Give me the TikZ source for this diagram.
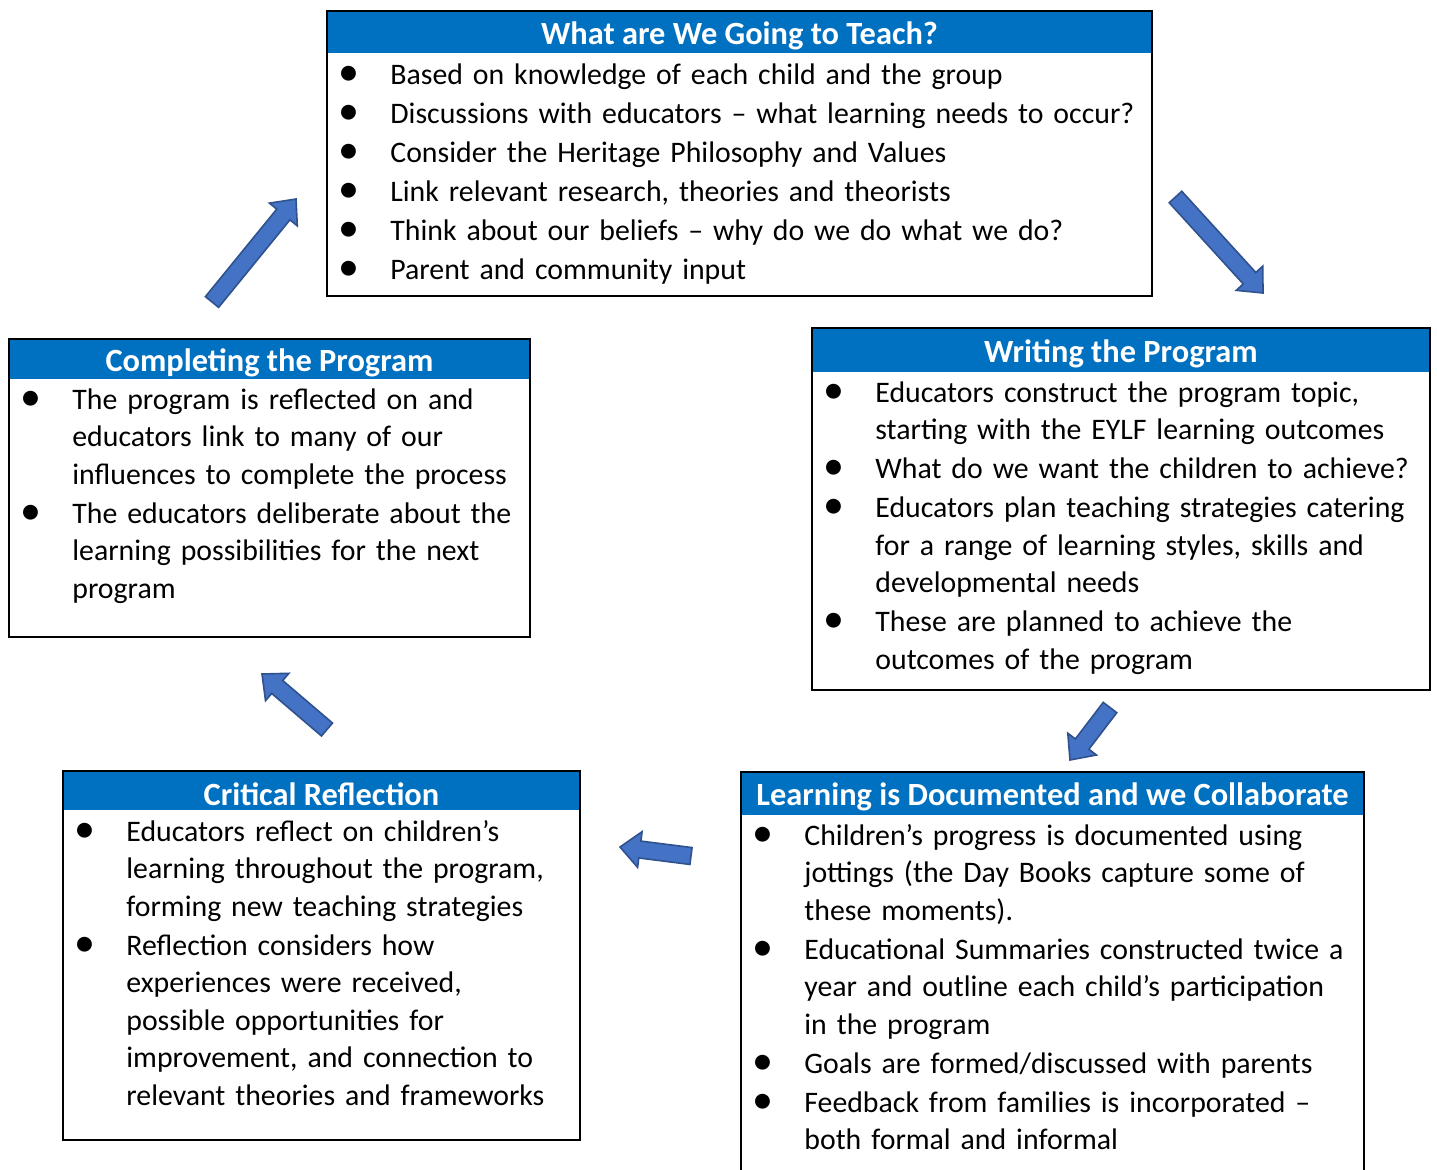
\documentclass[tikz,border=0pt]{standalone}
\usepackage{fontspec}
\setmainfont{Carlito}
\usetikzlibrary{calc,fit}

\definecolor{headblue}{HTML}{0070C0}
\definecolor{arrowfill}{HTML}{4472C4}
\definecolor{arrowline}{HTML}{2F528F}

% list entries with hanging indent
\newcommand{\bulletmark}{\raisebox{-0.6pt}{\fontsize{21}{0}\selectfont\textbullet}}
\newcommand{\point}[1]{\noindent\hangindent=31.5pt\hangafter=1%
  \makebox[31.5pt][l]{\hspace{8.5pt}\makebox[5pt]{\bulletmark}}#1\par}

% fat block arrow from tail #1 to tip #2
\newcommand{\blockarrow}[2]{%
  \coordinate (#1-neck) at ($(#2)!10pt!(#1)$);
  \draw[blockarrow]
    ($(#1)!4.25pt!90:(#2)$) -- ($(#1-neck)!4.25pt!90:(#2)$) --
    ($(#1-neck)!9pt!90:(#2)$) -- (#2) --
    ($(#1-neck)!9pt!-90:(#2)$) -- ($(#1-neck)!4.25pt!-90:(#2)$) --
    ($(#1)!4.25pt!-90:(#2)$) -- cycle;}

\tikzset{
  box/.style={draw=black, line width=1pt, inner sep=0pt},
  head/.style={fill=headblue, inner sep=0pt},
  title/.style={inner sep=0pt, text=white, yshift=-1.7pt,
    font=\fontsize{16.2}{19}\selectfont\bfseries},
  body/.style={anchor=base west, inner sep=0pt, align=left,
    font=\fontsize{14.9}{18.75}\selectfont,
    execute at begin node={\setlength{\parskip}{0.75pt}}},
  blockarrow/.style={fill=arrowfill, draw=arrowline, line width=0.8pt, line join=miter}
}

\begin{document}
\begin{tikzpicture}[x=0.5pt, y=-0.5pt]
  \useasboundingbox (0,0) rectangle (1437,1169);
  \clip (0,0) rectangle (1437,1169);

  % what to teach
  \node[head, fit={(327,11) (1152,53)}] (teachhead) {};
  \node[title] (teachtitle) at (teachhead.center) {What are We Going to Teach?};
  \node[box, fit={(327,11) (1152,296)}] (teach) {};
  \node[body, text width=410pt] (teachtext) at (327,84) {%
    \point{Based on knowledge of each child and the group}%
    \point{Discussions with educators – what learning needs to occur?}%
    \point{Consider the Heritage Philosophy and Values}%
    \point{Link relevant research, theories and theorists}%
    \point{Think about our beliefs – why do we do what we do?}%
    \point{Parent and community input}};

  % writing
  \node[head, fit={(812,328) (1430,372)}] (writehead) {};
  \node[title] (writetitle) at (writehead.center) {Writing the Program};
  \node[box, fit={(812,328) (1430,690)}] (write) {};
  \node[body, text width=308pt] (writetext) at (812,402) {%
    \point{Educators construct the program topic,\newline starting with the EYLF learning outcomes}%
    \point{What do we want the children to achieve?}%
    \point{Educators plan teaching strategies catering\newline for a range of learning styles, skills and\newline developmental needs}%
    \point{These are planned to achieve the\newline outcomes of the program}};

  % documenting
  \node[head, fit={(741,772) (1364,815)}] (dochead) {};
  \node[title] (doctitle) at (dochead.center) {Learning is Documented and we Collaborate};
  \node[box, fit={(741,772) (1364,1185)}] (doc) {};
  \node[body, text width=310pt] (doctext) at (741,845) {%
    \point{Children’s progress is documented using\newline jottings (the Day Books capture some of\newline these moments).}%
    \point{Educational Summaries constructed twice a\newline year and outline each child’s participation\newline in the program}%
    \point{Goals are formed/discussed with parents}%
    \point{Feedback from families is incorporated –\newline both formal and informal}};

  % reflection
  \node[head, fit={(63,771) (580,810)}] (reflecthead) {};
  \node[title] (reflecttitle) at (reflecthead.center) {Critical Reflection};
  \node[box, fit={(63,771) (580,1140)}] (reflect) {};
  \node[body, text width=258pt] (reflecttext) at (63,841) {%
    \point{Educators reflect on children’s\newline learning throughout the program,\newline forming new teaching strategies}%
    \point{Reflection considers how\newline experiences were received,\newline possible opportunities for\newline improvement, and connection to\newline relevant theories and frameworks}};

  % completing
  \node[head, fit={(9,339) (530,379)}] (completehead) {};
  \node[title] (completetitle) at (completehead.center) {Completing the Program};
  \node[box, fit={(9,339) (530,637)}] (complete) {};
  \node[body, text width=260pt] (completetext) at (9,409) {%
    \point{The program is reflected on and\newline educators link to many of our\newline influences to complete the process}%
    \point{The educators deliberate about the\newline learning possibilities for the next\newline program}};

  % cycle arrows
  \coordinate (c2t) at (212,302);   \coordinate (c2tend) at (296,199);
  \coordinate (t2w) at (1175.5,197); \coordinate (t2wend) at (1263,293);
  \coordinate (w2d) at (1110,707.5); \coordinate (w2dend) at (1070,760);
  \coordinate (d2r) at (691,856);   \coordinate (d2rend) at (620,847);
  \coordinate (r2c) at (327,729.5); \coordinate (r2cend) at (262,674);
  \blockarrow{c2t}{c2tend}
  \blockarrow{t2w}{t2wend}
  \blockarrow{w2d}{w2dend}
  \blockarrow{d2r}{d2rend}
  \blockarrow{r2c}{r2cend}
\end{tikzpicture}
\end{document}
